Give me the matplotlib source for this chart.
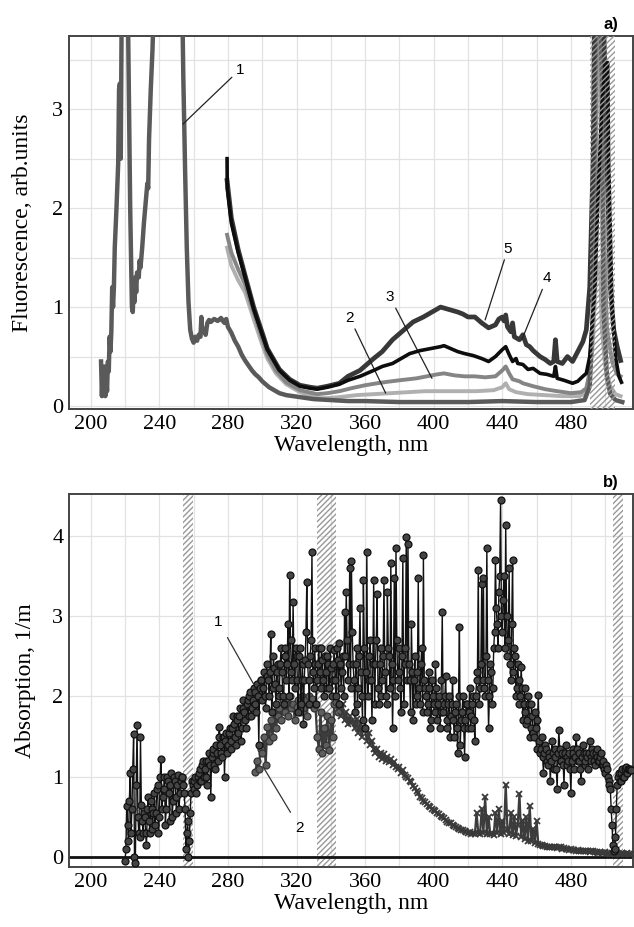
import numpy as np
import matplotlib
matplotlib.use("Agg")
import matplotlib.pyplot as plt

plt.rcParams['font.family'] = ['Liberation Serif', 'DejaVu Serif']

# ---------------- panel a) fluorescence ----------------
fl1_wl = [206, 206.5, 207, 207.5, 208, 208.5, 209, 209.5, 210, 210.5, 211, 211.5, 212, 212.5, 213, 213.5,
          214, 215, 216, 216.5, 217, 217.5, 218, 219, 221, 222, 223, 224, 224.5, 225, 225.5, 226, 226.5,
          227, 228, 228.5, 229, 230, 231, 232, 233, 233.5, 234, 235, 236, 237, 240, 250, 253, 254, 254.5,
          255, 256, 257, 258, 259, 260, 261, 262, 263, 264, 264.5, 265, 266, 267, 268, 269, 270, 272,
          274, 276, 277, 278, 279, 280, 282, 284, 286, 288, 290, 292, 294, 296, 298, 300, 302, 304, 306,
          308, 310, 314, 318, 322, 326, 330, 340, 350, 360, 380, 400, 420, 440, 460, 480, 488, 491, 493,
          494, 495, 497, 498, 499, 501, 503, 506, 510]
fl1 = [0.45, 0.1, 0.35, 0.15, 0.4, 0.1, 0.3, 0.15, 0.45, 0.35, 0.7, 0.55, 0.75, 1.2, 1.0, 1.2,
       1.6, 2.0, 2.45, 3.2, 3.26, 2.5, 3.9, 5, 5, 3.5, 2.0, 1.0, 0.95, 1.2, 1.05, 1.3, 1.15,
       1.35, 1.3, 1.47, 1.4, 1.6, 1.85, 2.05, 2.25, 2.2, 2.7, 3.2, 3.6, 4.2, 6, 6, 4.5, 3.3, 2.86,
       2.4, 1.6, 1.05, 0.77, 0.68, 0.64, 0.7, 0.66, 0.72, 0.7, 0.9, 0.75, 0.78, 0.72, 0.84, 0.87, 0.85, 0.88,
       0.86, 0.89, 0.86, 0.84, 0.88, 0.8, 0.74, 0.66, 0.6, 0.52, 0.46, 0.41, 0.36, 0.32, 0.29, 0.25, 0.22, 0.19, 0.17,
       0.15, 0.13, 0.11, 0.1, 0.09, 0.08, 0.07, 0.06, 0.05, 0.05, 0.04, 0.04, 0.04, 0.05, 0.04, 0.04, 0.06, 0.2, 1.0,
       3.0, 5, 5, 3, 1.0, 0.3, 0.12, 0.06, 0.04]

fl2_wl = [279.5, 282, 286, 290, 295, 300, 303, 308, 314, 322, 332, 338, 345, 355, 365, 375, 385, 395, 405,
          415, 425, 435, 440, 442, 444, 448, 455, 465, 475, 485, 489, 491, 493, 495, 496, 497, 498, 500,
          503, 506, 509]
fl2 = [1.6, 1.42, 1.27, 1.15, 0.88, 0.62, 0.48, 0.33, 0.22, 0.14, 0.08, 0.08, 0.09, 0.11, 0.12, 0.13, 0.14, 0.15, 0.15,
       0.15, 0.15, 0.16, 0.19, 0.23, 0.17, 0.14, 0.12, 0.11, 0.1, 0.1, 0.13, 0.25, 0.7, 1.44, 1.3, 1.44, 0.8, 0.4,
       0.2, 0.12, 0.1]

fl3_wl = [279.5, 282, 286, 290, 295, 300, 303, 308, 314, 322, 332, 338, 345, 352, 360, 367, 373, 380, 390,
          396, 402, 406, 412, 418, 424, 430, 436, 440, 442, 444, 446, 450, 452, 458, 465, 472, 480, 486,
          489, 491, 493, 495, 496, 497.5, 499, 501, 504, 507, 509]
fl3 = [1.73, 1.55, 1.38, 1.23, 0.95, 0.68, 0.52, 0.36, 0.24, 0.16, 0.12, 0.13, 0.15, 0.18, 0.21, 0.23, 0.245, 0.26, 0.28,
       0.3, 0.32, 0.33, 0.31, 0.3, 0.3, 0.29, 0.3, 0.36, 0.4, 0.33, 0.27, 0.25, 0.23, 0.2, 0.17, 0.15, 0.13, 0.14,
       0.18, 0.35, 1.0, 3, 5, 5, 2.0, 0.8, 0.45, 0.32, 0.3]

fl4_wl = [279.5, 279.6, 282, 286, 290, 295, 300, 303, 308, 310, 316, 322, 328, 332, 338, 345, 350, 357, 365,
          370, 376, 382, 386, 392, 398, 404, 406, 410, 414, 418, 423, 428, 432, 436, 440, 442, 444, 446,
          448, 449, 452, 455, 458, 462, 466, 470, 471, 472, 476, 481, 484, 487, 489, 491, 494, 496, 498,
          500, 501.5, 502, 504, 506, 508, 509.5]
fl4 = [2.5, 2.2, 1.85, 1.55, 1.3, 0.98, 0.72, 0.57, 0.42, 0.36, 0.26, 0.2, 0.18, 0.17, 0.19, 0.22, 0.26, 0.3, 0.36,
       0.4, 0.43, 0.49, 0.53, 0.56, 0.58, 0.6, 0.61, 0.58, 0.55, 0.53, 0.51, 0.48, 0.45, 0.5, 0.57, 0.6, 0.52, 0.45,
       0.48, 0.43, 0.42, 0.37, 0.38, 0.33, 0.32, 0.3, 0.4, 0.28, 0.26, 0.23, 0.25, 0.3, 0.33, 0.5, 1.2, 2.2, 3.0,
       3.47, 3.47, 2.5, 1.0, 0.5, 0.3, 0.24]

fl5_wl = [279.5, 282, 286, 290, 295, 300, 303, 308, 310, 316, 322, 328, 332, 338, 345, 350, 357, 365, 370,
          376, 382, 388, 394, 400, 404, 406, 410, 414, 417, 420, 424, 428, 432, 436, 438, 440, 441, 442,
          443, 445, 446, 447, 450, 452, 454, 456, 458, 460, 462, 465, 468, 470, 471, 472, 475, 478, 481,
          484, 487, 489, 491, 493, 494, 497, 499, 501, 503, 505, 507, 509]
fl5 = [2.28, 1.9, 1.58, 1.32, 1.0, 0.74, 0.58, 0.43, 0.37, 0.27, 0.21, 0.19, 0.18, 0.2, 0.23, 0.3, 0.36, 0.48, 0.55,
       0.67, 0.76, 0.85, 0.9, 0.96, 1.0, 0.99, 0.97, 0.95, 0.93, 0.9, 0.9, 0.84, 0.79, 0.82, 0.88, 0.9, 0.86, 0.92,
       0.8, 0.75, 0.84, 0.7, 0.67, 0.72, 0.62, 0.6, 0.56, 0.53, 0.5, 0.47, 0.43, 0.45, 0.67, 0.45, 0.43, 0.5, 0.45,
       0.55, 0.65, 0.77, 1.2, 2.5, 4.5, 5, 4, 2.5, 1.2, 0.77, 0.6, 0.46]

# ---------------- panel b) absorption ----------------
# curve 1: readings at whole nm (abs1) and at half nm (abs1_half)
abs1_start = 220
abs1 = [-0.05, 0.63, 0.2, 1.05, 0.6, 1.53, -0.08, 1.64, 0.3, 1.5,
        0.45, 0.55, 0.3, 0.6, 0.45, 0.7, 0.35, 0.8, 0.55, 0.9,
        0.5, 1.22, 0.75, 1.0, 0.6, 0.95, 0.45, 1.05, 0.7, 0.95,
        0.55, 1.02, 0.8, 1.0, 0.9, 0.6, 0.3, 0.0, 0.55, 0.95,
        0.85, 1.0, 0.9, 1.05, 0.95, 1.15, 1.0, 1.2, 0.9, 1.3,
        0.75, 1.3, 1.15, 1.4, 1.2, 1.62, 1.3, 1.5, 1.0, 1.55,
        1.4, 1.6, 1.35, 1.75, 1.5, 1.75, 1.55, 1.85, 1.6, 1.95,
        1.7, 1.9, 1.75, 2.05, 1.85, 2.1, 1.9, 2.15, 1.4, 2.2,
        1.95, 2.3, 1.85, 2.25, 2.0, 2.78, 2.1, 2.35, 1.9, 2.4,
        2.1, 2.6, 2.0, 2.5, 2.2, 2.9, 3.51, 2.3, 3.18, 2.1,
        2.5, 1.8, 2.6, 2.2, 1.65, 2.45, 3.43, 2.2, 2.5, 3.8,
        2.1, 2.4, 2.2, 2.6, 2.1, 2.45, 2.0, 2.3, 2.5, 2.1,
        2.35, 2.2, 2.58, 2.0, 2.45, 2.66, 2.1, 2.5, 3.05, 3.3,
        2.2, 3.6, 3.68, 2.4, 1.8, 2.6, 2.1, 3.1, 2.0, 3.45,
        1.6, 3.8, 2.2, 2.7, 1.7, 3.45, 2.4, 3.28, 1.9, 2.6,
        2.2, 3.45, 2.0, 3.3, 2.5, 3.66, 1.6, 3.47, 3.85, 2.2,
        2.6, 1.8, 3.72, 2.4, 3.99, 3.9, 2.2, 2.9, 1.7, 2.5,
        2.0, 3.47, 1.9, 2.6, 3.76, 2.1, 1.8, 2.3, 1.6, 2.2,
        1.9, 2.4, 1.7, 2.0, 1.8, 3.05, 1.9, 2.25, 1.6, 2.0,
        1.75, 2.2, 1.5, 1.9, 1.3, 2.87, 1.7, 2.0, 1.25, 1.9,
        1.6, 2.1, 1.75, 2.0, 1.45, 2.2, 3.57, 2.1, 3.4, 3.47,
        2.0, 3.85, 1.6, 2.4, 1.9, 2.6, 3.7, 2.9, 3.3, 4.45,
        2.8, 3.5, 4.13, 2.5, 3.6, 2.2, 3.7, 2.6, 2.0, 2.4,
        1.9, 2.37, 1.7, 2.1, 1.65, 2.0, 1.5, 1.9, 1.55, 1.8,
        1.35, 2.02, 1.3, 1.5, 1.05, 1.4, 1.2, 1.3, 0.95, 1.45,
        1.1, 1.35, 0.85, 1.58, 1.2, 1.3, 0.9, 1.4, 1.15, 1.3,
        0.8, 1.35, 1.1, 1.5, 1.2, 1.3, 0.95, 1.4, 1.15, 1.3,
        1.1, 1.45, 1.2, 1.3, 1.15, 1.35, 1.2, 1.25, 1.15, 1.2,
        1.05, 1.1, 0.95, 0.85, 0.4, 0.07, 0.25, 0.9, 1.05, 0.95,
        1.1, 1.0, 1.12, 1.05, 1.1, 1.08]

abs1_half = [0.1, 0.4, 0.7, 0.3, 1.1, 0.0, 0.9, 0.5, 0.25, 0.65,
             0.3, 0.5, 0.15, 0.75, 0.3, 0.6, 0.55, 0.4, 0.85, 0.3,
             1.0, 0.6, 0.85, 0.4, 1.0, 0.8, 0.9, 0.5, 1.0, 0.75,
             0.9, 0.6, 0.95, 1.0, 0.8, 0.1, 0.45, 0.2, 0.8, 0.9,
             0.95, 0.8, 1.0, 1.1, 0.95, 1.2, 1.1, 1.0, 1.2, 1.15,
             1.25, 1.35, 1.1, 1.3, 1.5, 1.4, 1.25, 1.5, 1.45, 1.3,
             1.55, 1.45, 1.6, 1.65, 1.4, 1.7, 1.75, 1.45, 1.85, 1.8,
             1.6, 1.95, 2.0, 1.75, 1.95, 2.05, 1.8, 2.0, 2.1, 2.2,
             2.1, 2.0, 2.4, 2.2, 2.3, 1.8, 2.5, 2.15, 2.3, 2.0,
             2.4, 2.3, 1.9, 2.6, 2.4, 2.0, 2.7, 2.2, 2.4, 2.6,
             2.2, 2.5, 1.9, 2.4, 2.2, 2.8, 2.4, 1.9, 2.7, 2.3,
             2.6, 1.9, 2.4, 2.3, 2.6, 2.2, 2.5, 2.1, 2.4, 2.6,
             2.0, 2.4, 2.2, 2.6, 1.9, 2.4, 2.3, 2.0, 2.5, 2.7,
             2.4, 2.1, 2.8, 2.2, 2.4, 1.9, 2.5, 2.3, 1.7, 2.6,
             2.3, 2.0, 2.5, 2.2, 2.4, 1.9, 2.7, 2.1, 2.4, 2.0,
             2.5, 2.3, 1.9, 2.6, 2.1, 2.4, 2.2, 2.0, 2.7, 2.3,
             2.1, 2.5, 1.9, 2.6, 2.2, 2.4, 1.8, 2.3, 2.2, 1.9,
             2.3, 2.1, 2.4, 1.8, 2.2, 2.0, 1.9, 2.1, 1.7, 2.0,
             1.8, 2.1, 1.9, 1.6, 2.2, 1.8, 2.0, 1.7, 1.9, 1.5,
             1.9, 1.7, 1.8, 1.6, 2.0, 1.4, 1.8, 1.6, 1.7, 1.9,
             1.8, 1.6, 1.9, 1.7, 2.0, 2.3, 1.9, 2.4, 2.2, 2.1,
             2.5, 2.2, 2.0, 2.3, 2.1, 2.8, 3.1, 2.6, 3.5, 3.0,
             3.2, 2.6, 3.0, 2.7, 2.4, 2.9, 2.3, 2.5, 2.1, 2.2,
             2.0, 2.1, 1.9, 1.8, 1.7, 1.9, 1.6, 1.75, 1.5, 1.6,
             1.7, 1.45, 1.35, 1.25, 1.3, 1.35, 1.15, 1.25, 1.2, 1.3,
             1.25, 1.1, 1.3, 1.35, 1.2, 1.15, 1.3, 1.25, 1.2, 1.1,
             1.2, 1.3, 1.25, 1.35, 1.2, 1.1, 1.25, 1.3, 1.2, 1.25,
             1.3, 1.25, 1.35, 1.2, 1.3, 1.25, 1.2, 1.3, 1.15, 1.1,
             1.15, 1.0, 0.9, 0.6, 0.15, 0.1, 0.6, 1.0, 0.95, 1.05,
             1.0, 1.1, 1.05, 1.1, 1.1]

abs2_start = 296
abs2 = [1.06, 1.2, 1.1, 1.35, 1.3, 1.5, 1.15, 1.62, 1.45, 1.7,
        1.5, 1.8, 1.6, 1.75, 1.85, 1.7, 1.95, 1.8, 1.9, 1.75,
        2.0, 1.85, 1.9, 1.7, 1.87, 1.95, 1.8, 2.0, 1.85, 1.95,
        1.75, 2.0, 1.9, 1.97, 1.85, 1.9, 1.5, 1.35, 1.8, 1.3,
        1.6, 1.4, 1.75, 1.33, 1.7, 1.5, 1.9, 1.93, 1.8, 1.85,
        1.75, 1.9, 1.7, 1.8, 1.65, 1.75, 1.67, 1.7, 1.6, 1.72,
        1.55, 1.65, 1.5, 1.62, 1.58, 1.45, 1.55, 1.4, 1.45, 1.35,
        1.3, 1.35, 1.25, 1.3, 1.22, 1.28, 1.2, 1.25, 1.18, 1.22,
        1.15, 1.18, 1.12, 1.1, 1.12, 1.05, 1.08, 1.02, 1.0, 0.98,
        0.95, 0.93, 0.88, 0.86, 0.82, 0.8, 0.75, 0.73, 0.7, 0.68,
        0.66, 0.63, 0.62, 0.6, 0.59, 0.57, 0.55, 0.53, 0.51, 0.5,
        0.48, 0.46, 0.44, 0.42, 0.42, 0.4, 0.39, 0.37, 0.36, 0.35,
        0.34, 0.33, 0.32, 0.31, 0.3, 0.31, 0.29, 0.3, 0.28, 0.55,
        0.3, 0.28, 0.6, 0.3, 0.75, 0.29, 0.5, 0.28, 0.3, 0.27,
        0.55, 0.3, 0.6, 0.28, 0.45, 0.3, 0.9, 0.35, 0.28, 0.55,
        0.27, 0.5, 0.26, 0.4, 0.79, 0.25, 0.45, 0.22, 0.5, 0.2,
        0.63, 0.2, 0.35, 0.18, 0.45, 0.16, 0.15, 0.15, 0.14, 0.14,
        0.13, 0.13, 0.12, 0.13, 0.12, 0.12, 0.11, 0.12, 0.12, 0.1,
        0.11, 0.1, 0.1, 0.09, 0.1, 0.09, 0.09, 0.08, 0.09, 0.08,
        0.08, 0.07, 0.08, 0.07, 0.07, 0.06, 0.07, 0.08, 0.06, 0.06,
        0.05, 0.06, 0.05, 0.05, 0.06, 0.05, 0.05, 0.04, 0.04, 0.05,
        0.04, 0.05, 0.04, 0.04, 0.05, 0.04, 0.04, 0.05, 0.04, 0.04]

hatch_a = [(491, 505.5)]
hatch_b = [(254, 259.5), (332, 343), (504.5, 510.5)]

xticks = [200, 240, 280, 320, 360, 400, 440, 480]
xgrid = np.arange(200, 516, 20)

fig = plt.figure(figsize=(6.34, 9.27), dpi=100)
ax1 = fig.add_axes([0.1088, 0.5588, 0.889, 0.4024])
ax2 = fig.add_axes([0.1088, 0.0647, 0.889, 0.4024])


def style(ax, ylim, ygrid, yticks):
    ax.set_xlim(187.3, 516)
    ax.set_ylim(*ylim)
    ax.set_xticks(xgrid, minor=True)
    ax.set_xticks(xticks)
    ax.set_yticks(ygrid, minor=True)
    ax.set_yticks(yticks)
    ax.grid(True, which='both', color='#e2e2e2', lw=0.9)
    ax.set_axisbelow(True)
    ax.tick_params(which='both', length=0, labelsize=16, pad=4)
    for s in ax.spines.values():
        s.set_color('#444444')
        s.set_linewidth(1.4)
    ax.set_xlabel('Wavelength, nm', fontsize=17, labelpad=1)


style(ax1, (-0.03, 3.74), np.arange(0, 3.8, 0.5), [0, 1, 2, 3])
ax1.set_ylabel('Fluorescence, arb.units', fontsize=17, labelpad=14)

for a, b in hatch_a:
    ax1.axvspan(a, b, facecolor='none', edgecolor='#999999', hatch='//////', lw=0, zorder=5)

ax1.plot(fl2_wl, fl2, color='#b0b0b0', lw=2.8, zorder=2)
ax1.plot(fl3_wl, fl3, color='#858585', lw=2.8, zorder=2)
ax1.plot(fl1_wl, fl1, color='#5a5a5a', lw=3.2, zorder=3)
ax1.plot(fl5_wl, fl5, color='#383838', lw=3.4, zorder=3)
ax1.plot(fl4_wl, fl4, color='#0d0d0d', lw=2.6, zorder=4)

ann_kw = dict(fontsize=11, family='Liberation Sans', ha='center', va='bottom',
              arrowprops=dict(arrowstyle='-', color='#222222', lw=0.9, shrinkA=1, shrinkB=0))
ax1.annotate('1', xy=(253.8, 2.85), xytext=(287, 3.33), **ann_kw)
ax1.annotate('2', xy=(372, 0.13), xytext=(351, 0.82), **ann_kw)
ax1.annotate('3', xy=(399, 0.28), xytext=(374.5, 1.03), **ann_kw)
ax1.annotate('5', xy=(430, 0.87), xytext=(443.3, 1.52), **ann_kw)
ax1.annotate('4', xy=(451.4, 0.67), xytext=(466, 1.22), **ann_kw)
ax1.text(0.975, 1.01, 'a)', transform=ax1.transAxes, ha='right', va='bottom',
         fontsize=12, fontweight='bold', family='Liberation Sans')

style(ax2, (-0.125, 4.52), [0, 1, 2, 3, 4], [0, 1, 2, 3, 4])
ax2.set_ylabel('Absorption, 1/m', fontsize=17, labelpad=12)

for a, b in hatch_b:
    ax2.axvspan(a, b, facecolor='none', edgecolor='#999999', hatch='//////', lw=0, zorder=1)

ax2.axhline(0, color='#111111', lw=2.0, zorder=2)

wl1 = np.concatenate([np.arange(abs1_start, abs1_start + len(abs1)),
                      np.arange(abs1_start, abs1_start + len(abs1_half)) + 0.5])
order = np.argsort(wl1)
wl1 = wl1[order]
a1 = np.concatenate([abs1, abs1_half])[order]
wl2 = np.arange(abs2_start, abs2_start + len(abs2))
a2 = np.array(abs2)

ax2.plot(wl2, a2, color='#3c3c3c', lw=1.6, zorder=3)
m = wl2 < 345
ax2.plot(wl2[m], a2[m], ls='none', marker='o', ms=5, mfc='#5e5e5e',
         mec='#333333', mew=0.9, zorder=3)
ax2.plot(wl2[~m], a2[~m], ls='none', marker='x', ms=5, color='#3a3a3a',
         mew=1.3, zorder=3)
ax2.plot(wl1, a1, color='#111111', lw=1.0, marker='o', ms=5.0, mfc='#444444',
         mec='#111111', mew=0.9, zorder=4)

ann_kw2 = dict(fontsize=11, family='Liberation Sans', ha='center', va='center',
               arrowprops=dict(arrowstyle='-', color='#333333', lw=0.9, shrinkA=5, shrinkB=0))
ax2.annotate('1', xy=(294.8, 2.16), xytext=(274.5, 2.93), **ann_kw2)
ax2.annotate('2', xy=(300.6, 1.12), xytext=(322, 0.36), **ann_kw2)
ax2.text(0.975, 1.01, 'b)', transform=ax2.transAxes, ha='right', va='bottom',
         fontsize=12, fontweight='bold', family='Liberation Sans')

fig.savefig('out.png', dpi=100)
